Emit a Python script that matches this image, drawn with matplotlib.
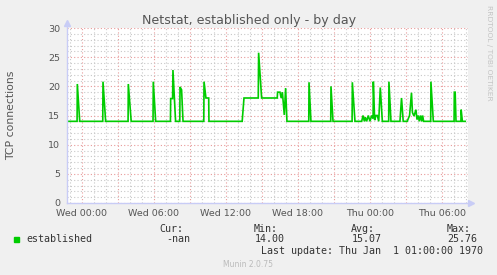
import matplotlib
matplotlib.use('Agg')
import matplotlib.pyplot as plt
from matplotlib.ticker import MultipleLocator, FixedLocator, FixedFormatter

# hours since Wed 00:00, established connections
hours = [-1.25, -0.41, -0.39, -0.19,
         1.73, 1.75, 1.97,
         3.84, 3.86, 4.1,
         5.92, 5.94, 6.14,
         7.37, 7.39, 7.55, 7.58, 7.8, 8.15, 8.17, 8.3, 8.42,
         10.15, 10.17, 10.33, 10.56, 10.58,
         13.35, 13.5, 14.69, 14.72, 14.97, 16.27, 16.3, 16.5, 16.6, 16.7,
         16.86, 16.97, 17.08,
         18.9, 18.92, 19.08,
         20.73, 20.75, 20.92,
         22.51, 22.53, 22.75,
         23.31, 23.42, 23.53, 23.61, 23.72, 23.86, 24.0, 24.14, 24.26, 24.28,
         24.39, 24.5, 24.61, 24.73, 24.86, 25.03,
         25.56, 25.58, 25.75,
         26.5, 26.63, 26.77,
         27.1, 27.3, 27.46, 27.54, 27.67, 27.83, 27.92, 28.03, 28.11, 28.22,
         28.31, 28.39, 28.47,
         29.06, 29.08, 29.28,
         31.01, 31.03, 31.1, 31.17,
         31.58, 31.6, 31.7, 31.94]
established = [14, 14, 20.4, 14,
               14, 20.8, 14,
               14, 20.4, 14,
               14, 20.8, 14,
               14, 17.9, 17.9, 22.8, 14, 14, 19.9, 19.4, 14,
               14, 20.8, 18, 18, 14,
               14, 18, 18, 25.76, 18, 18, 19, 19, 18, 19,
               15.1, 19.7, 14,
               14, 20.7, 14,
               14, 20, 14,
               14, 20.7, 14,
               14, 15, 14, 14.7, 14, 15, 14, 15, 14.5, 20.8,
               14.2, 15, 15, 14, 19.8, 14,
               14, 20.8, 14,
               14, 18, 14,
               14, 15, 18.9, 15.5, 14.9, 16, 14.3, 15, 14, 15,
               14, 15, 14,
               14, 20.8, 14,
               14, 19, 19, 14,
               14, 16, 14, 14]

tick_hours = [0, 3, 6, 9, 12, 15, 18, 21, 24, 27, 30]
tick_labels = ['Wed 00:00', '', 'Wed 06:00', '', 'Wed 12:00', '',
               'Wed 18:00', '', 'Thu 00:00', '', 'Thu 06:00']

stat_names = ['Cur:', 'Min:', 'Avg:', 'Max:']
stat_values = ['-nan', '14.00', '15.07', '25.76']

W, H = 497, 275
fig = plt.figure(figsize=(W / 100, H / 100), dpi=100, facecolor='#F0F0F0')
ax = fig.add_axes([67 / W, 1 - 203 / H, 401 / W, 175 / H], facecolor='white')

ax.plot(hours, established, color='#00CC00', lw=1.2, solid_joinstyle='miter')
ax.set_xlim(-1.25, 32.17)
ax.set_ylim(0, 30)

# grid: grey dotted minor, red dotted major
ax.xaxis.set_major_locator(FixedLocator(tick_hours))
ax.xaxis.set_major_formatter(FixedFormatter(tick_labels))
ax.xaxis.set_minor_locator(MultipleLocator(1))
ax.yaxis.set_major_locator(MultipleLocator(5))
ax.yaxis.set_minor_locator(MultipleLocator(1))
ax.grid(which='minor', color='#C8C8C8', ls=(0, (1, 2)), lw=0.8)
ax.grid(which='major', color='#E89A9A', ls=(0, (1, 2)), lw=0.8)
ax.set_axisbelow(True)

for s in ax.spines.values():
    s.set_visible(False)
ax.tick_params(which='both', length=0, colors='#555555', labelsize=6.8)
ax.tick_params(axis='x', pad=4)
ax.tick_params(axis='y', pad=5)

# axis lines with arrow heads
axis_c = '#C8CCF6'
ax.plot([0, 0], [0, 1.03], color=axis_c, lw=1, transform=ax.transAxes, clip_on=False)
ax.plot([0, 1.008], [0, 0], color=axis_c, lw=1, transform=ax.transAxes, clip_on=False)
ax.plot([0], [1.03], marker='^', ms=4, color=axis_c, transform=ax.transAxes, clip_on=False)
ax.plot([1.008], [0], marker='>', ms=4, color=axis_c, transform=ax.transAxes, clip_on=False)

fig.text(249 / W, 1 - 24 / H, 'Netstat, established only - by day', ha='center',
         va='baseline', fontsize=9.1, color='#555555')
fig.text(11 / W, 1 - 115 / H, 'TCP connections', rotation=90, ha='center',
         va='center', fontsize=7.8, color='#555555')
fig.text(489 / W, 1 - 5 / H, 'RRDTOOL / TOBI OETIKER', rotation=270, ha='center',
         va='top', fontsize=5.4, color='#C4C4C4')

# legend block
mono = 'DejaVu Sans Mono'
fig.patches.append(plt.Rectangle((14 / W, 1 - 242 / H), 5 / W, 5 / H,
                                 color='#00CC00', transform=fig.transFigure))
fig.text(26 / W, 1 - 239.5 / H, 'established', family=mono, fontsize=7.2,
         va='center', color='#333333')
name_x = [159, 254, 351, 447]
value_x = [166, 255, 352, 447]
for nx, vx, n, v in zip(name_x, value_x, stat_names, stat_values):
    fig.text(nx / W, 1 - 228.5 / H, n, family=mono, fontsize=7.2, va='center', color='#333333')
    fig.text(vx / W, 1 - 239.5 / H, v, family=mono, fontsize=7.2, va='center', color='#333333')
fig.text(483 / W, 1 - 251.5 / H, 'Last update: Thu Jan  1 01:00:00 1970', family=mono,
         fontsize=7.2, va='center', ha='right', color='#333333')
fig.text(248 / W, 1 - 264.5 / H, 'Munin 2.0.75', ha='center', va='center',
         fontsize=5.5, color='#BBBBBB')

fig.savefig('out.png', dpi=100, facecolor=fig.get_facecolor())
